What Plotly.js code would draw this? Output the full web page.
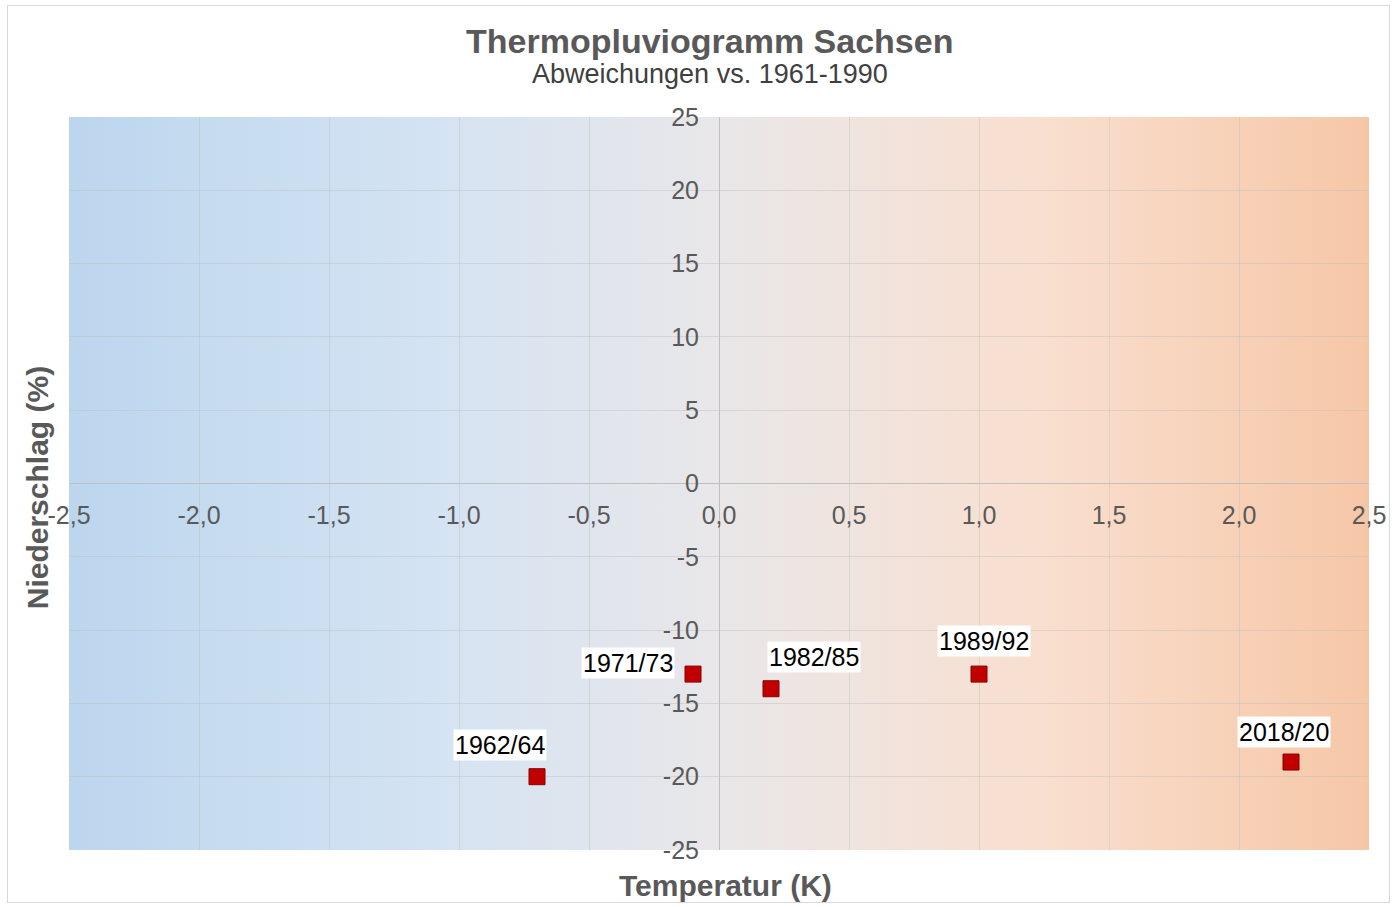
<!DOCTYPE html>
<html>
<head>
<meta charset="utf-8">
<script src="https://cdn.plot.ly/plotly-3.0.1.min.js"></script>
<style>
  html, body { margin: 0; padding: 0; background: #fff; }
  #frame { position: absolute; left: 7px; top: 5px; width: 1383px; height: 898px; border: 1px solid #d9d9d9; box-sizing: border-box; pointer-events: none; z-index: 5; }
  #chart { width: 1393px; height: 907px; }
</style>
</head>
<body>
<div id="frame"></div>
<div id="chart"></div>
<script>
// ---- data ----
const periods = ["1962/64", "1971/73", "1982/85", "1989/92", "2018/20"];
const tempDev = [-0.7, -0.1, 0.2, 1.0, 2.2];      // Temperatur (K)
const precipDev = [-20, -13, -14, -13, -19];     // Niederschlag (%)

// ---- tick labels ----
const xTickVals = [-2.5, -2.0, -1.5, -1.0, -0.5, 0, 0.5, 1.0, 1.5, 2.0, 2.5];
const xTickText = ["-2,5", "-2,0", "-1,5", "-1,0", "-0,5", "0,0", "0,5", "1,0", "1,5", "2,0", "2,5"];
const yTickVals = [-25, -20, -15, -10, -5, 0, 5, 10, 15, 20, 25];
const yTickText = ["-25", "-20", "-15", "-10", "-5", "0", "5", "10", "15", "20", "25"];

// ---- label placement (pixels, styling only) ----
const labelShiftX = [-37, -65, 43, 5, -7];
const labelShiftY = [32, 11, 32, 33, 30];

const FONT = 'Liberation Sans, Arial, sans-serif';

const gradSvg = '<svg xmlns="http://www.w3.org/2000/svg" width="1300" height="733" preserveAspectRatio="none">' +
  '<defs><linearGradient id="g" x1="0" y1="0" x2="1" y2="0">' +
  '<stop offset="0" stop-color="#bcd6ee"/>' +
  '<stop offset="0.28" stop-color="#d4e3f3"/>' +
  '<stop offset="0.5" stop-color="#e9e7e9"/>' +
  '<stop offset="0.75" stop-color="#f9dfcf"/>' +
  '<stop offset="1" stop-color="#f6c7a7"/>' +
  '</linearGradient></defs><rect width="1300" height="733" fill="url(#g)"/></svg>';
const gradUri = 'data:image/svg+xml;charset=utf-8,' + encodeURIComponent(gradSvg);

const trace = {
  type: 'scatter',
  mode: 'markers',
  x: tempDev,
  y: precipDev,
  text: periods,
  marker: { symbol: 'square', size: 16, color: '#c00000', line: { color: '#8a0000', width: 1 } },
  hoverinfo: 'text+x+y',
  showlegend: false
};

const annotations = periods.map((p, i) => ({
  x: tempDev[i], y: precipDev[i], xref: 'x', yref: 'y',
  text: p, showarrow: false,
  xanchor: 'center', yanchor: 'middle',
  xshift: labelShiftX[i], yshift: labelShiftY[i],
  bgcolor: '#ffffff', borderpad: 1,
  font: { family: FONT, size: 25, color: '#000000' }
}));

annotations.push(
  { xref: 'paper', yref: 'paper', x: 0.493, y: 1, xanchor: 'center', yanchor: 'middle', yshift: 76,
    text: '<b>Thermopluviogramm Sachsen</b>', showarrow: false,
    font: { family: FONT, size: 34, color: '#595959' } },
  { xref: 'paper', yref: 'paper', x: 0.493, y: 1, xanchor: 'center', yanchor: 'middle', yshift: 43,
    text: 'Abweichungen vs. 1961-1990', showarrow: false,
    font: { family: FONT, size: 27, color: '#404040' } },
  { xref: 'paper', yref: 'paper', x: 0.505, y: 0, xanchor: 'center', yanchor: 'middle', yshift: -35,
    text: '<b>Temperatur (K)</b>', showarrow: false,
    font: { family: FONT, size: 30, color: '#595959' } },
  { xref: 'paper', yref: 'paper', x: 0, y: 0.4935, xanchor: 'center', yanchor: 'middle', xshift: -32,
    text: '<b>Niederschlag (%)</b>', showarrow: false, textangle: -90,
    font: { family: FONT, size: 30, color: '#595959' } }
);

const layout = {
  width: 1393, height: 907,
  margin: { l: 69, r: 24, t: 117, b: 57, pad: 0 },
  paper_bgcolor: 'rgba(0,0,0,0)',
  plot_bgcolor: 'rgba(0,0,0,0)',
  font: { family: FONT, color: '#595959' },
  xaxis: {
    range: [-2.5, 2.5], tickmode: 'array', tickvals: xTickVals, ticktext: xTickText,
    anchor: 'free', position: 0.5,
    showgrid: true, gridcolor: 'rgba(190,190,190,0.45)', gridwidth: 1,
    zeroline: true, zerolinecolor: '#bfbfbf', zerolinewidth: 1,
    showline: false, ticks: '', ticklabelstandoff: 14,
    tickfont: { size: 25, color: '#595959' }
  },
  yaxis: {
    range: [-25, 25], tickmode: 'array', tickvals: yTickVals, ticktext: yTickText,
    anchor: 'free', position: 0.5,
    showgrid: true, gridcolor: 'rgba(190,190,190,0.45)', gridwidth: 1,
    zeroline: true, zerolinecolor: '#bfbfbf', zerolinewidth: 1,
    showline: false, ticks: '', ticklabelstandoff: 20,
    tickfont: { size: 25, color: '#595959' }
  },
  images: [{
    source: gradUri, xref: 'paper', yref: 'paper', x: 0, y: 1, sizex: 1, sizey: 1,
    xanchor: 'left', yanchor: 'top', sizing: 'stretch', layer: 'below'
  }],
  annotations: annotations
};

Plotly.newPlot('chart', [trace], layout, { displayModeBar: false, staticPlot: true });
</script>
</body>
</html>
